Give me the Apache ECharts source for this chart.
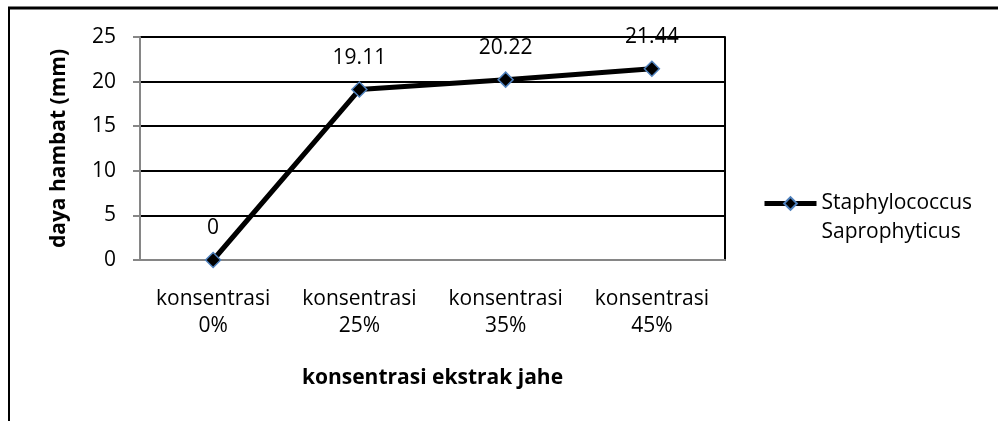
<!DOCTYPE html>
<html>
<head>
<meta charset="utf-8">
<script src="https://cdn.jsdelivr.net/npm/echarts@6/dist/echarts.min.js"></script>
<style>
html,body{margin:0;padding:0;background:#fff;}
#chart{width:998px;height:421px;}
</style>
</head>
<body>
<div id="chart"></div>
<script>
const categories = ['konsentrasi\n0%', 'konsentrasi\n25%', 'konsentrasi\n35%', 'konsentrasi\n45%'];
const seriesName = 'Staphylococcus\nSaprophyticus';
const values = [0, 19.11, 20.22, 21.44];
const yTicks = { min: 0, max: 25, interval: 5 };
const xTitle = 'konsentrasi ekstrak jahe';
const yTitle = 'daya hambat (mm)';

const FONT = '"Open Sans", Lato, sans-serif';
const FS = 21;
const chart = echarts.init(document.getElementById('chart'), null, { renderer: 'canvas' });
chart.setOption({
  backgroundColor: '#fff',
  animation: false,
  textStyle: { fontFamily: FONT, color: '#000' },
  graphic: [
    { type: 'line', shape: { x1: 8, y1: 8, x2: 998, y2: 8 }, style: { stroke: '#000', lineWidth: 3 } },
    { type: 'line', shape: { x1: 9, y1: 8, x2: 9, y2: 421 }, style: { stroke: '#000', lineWidth: 2 } }
  ],
  grid: { left: 140, top: 37, width: 585, height: 223, containLabel: false },
  legend: {
    left: 762, top: 160, padding: 0,
    itemWidth: 52, itemHeight: 16,
    data: [seriesName],
    formatter: function (n) { return ' \n' + n; },
    lineStyle: { width: 5, color: '#000' },
    textStyle: { fontFamily: FONT, fontSize: FS, color: '#000', lineHeight: 29 }
  },
  xAxis: {
    type: 'category',
    data: categories,
    boundaryGap: true,
    name: xTitle,
    nameLocation: 'middle',
    nameGap: 108,
    nameTextStyle: { fontFamily: FONT, fontSize: FS, fontWeight: 'bold', color: '#000' },
    axisLine: { lineStyle: { color: '#868686', width: 2 } },
    axisTick: { show: false },
    axisLabel: { interval: 0, hideOverlap: false, fontFamily: FONT, fontSize: FS, color: '#000', lineHeight: 27, margin: 26 }
  },
  yAxis: [{
    type: 'value',
    min: yTicks.min, max: yTicks.max, interval: yTicks.interval,
    name: yTitle,
    nameLocation: 'middle',
    nameGap: 70,
    nameTextStyle: { fontFamily: FONT, fontSize: FS, fontWeight: 'bold', color: '#000' },
    axisLine: { show: true, lineStyle: { color: '#868686', width: 2 } },
    axisTick: { show: true, length: 7, lineStyle: { color: '#868686', width: 2 } },
    axisLabel: { fontFamily: FONT, fontSize: FS, color: '#000', margin: 24 },
    splitLine: { show: true, lineStyle: { color: '#000', width: 2 } }
  }, {
    type: 'value',
    position: 'right',
    min: yTicks.min, max: yTicks.max, interval: yTicks.interval,
    axisLine: { show: true, lineStyle: { color: '#000', width: 2 } },
    axisTick: { show: false },
    axisLabel: { show: false },
    splitLine: { show: false }
  }],
  series: [{
    name: seriesName,
    type: 'line',
    data: values,
    symbol: 'diamond',
    symbolSize: 15,
    lineStyle: { color: '#000', width: 5 },
    itemStyle: { color: '#000', borderColor: '#4f81bd', borderWidth: 1.5 },
    label: { show: true, position: 'top', distance: 13, fontFamily: FONT, fontSize: FS, color: '#000' },
    z: 3
  }]
});
</script>
</body>
</html>
